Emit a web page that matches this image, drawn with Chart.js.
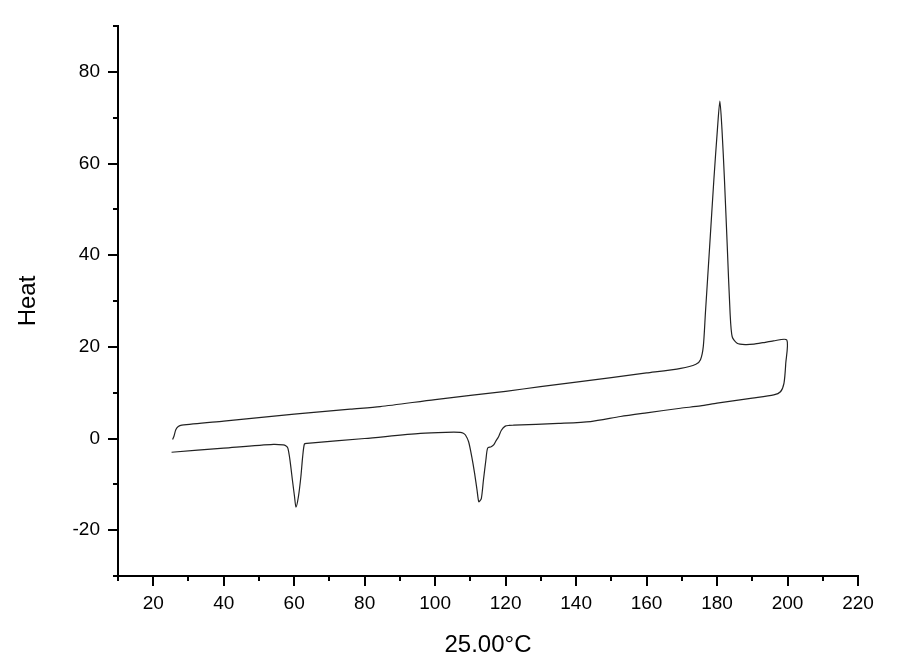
<!DOCTYPE html>
<html>
<head>
<meta charset="utf-8">
<script src="https://cdn.jsdelivr.net/npm/chart.js@4"></script>
<style>
  body { margin: 0; background: #fff; }
  #wrap { width: 900px; height: 664px; }
</style>
</head>
<body>
<div id="wrap"><canvas id="myChart"></canvas></div>
<script>
    // heating run then cooling run, one continuous trace
    var temps = [25.5, 25.9, 26.4, 27.1, 28.1, 40, 60, 75.9, 84.4, 100, 120, 129.9, 140, 160, 169.7, 174.0,
                 175.3, 176.1, 176.7, 177.9, 179.1, 180.1, 180.8, 181.4, 182.1, 182.9, 183.7, 184.3, 185.7,
                 188, 190.5, 193, 196, 199.8,
                 199.5, 199.0, 198.0, 196.1, 190, 180, 175.3, 169.6, 160, 152.6, 144.1, 135, 122.3, 121.0, 119.9,
                 118.8, 118.0, 117.2, 116.6, 115.9, 114.9, 114.4, 113.7, 113.1, 112.4, 111.9, 111.2, 110.4, 109.5, 108.6,
                 108.0, 107.1, 103, 95.8, 80, 63.6, 62.9, 62.4, 61.9, 61.2, 60.5, 60.1, 59.5, 58.8, 58.2, 57.6, 56.9,
                 54.1, 40, 25.2];
    var heat = [-0.2, 0.55, 1.9, 2.6, 2.9, 3.8, 5.3, 6.4, 6.95, 8.5, 10.3, 11.3, 12.3, 14.3, 15.3, 16.2,
                17.2, 20.1, 27.4, 41.9, 56.5, 67.4, 73.6, 67.4, 56.5, 41.9, 27.4, 22.2, 20.8,
                20.5, 20.6, 20.9, 21.3, 21.5,
                16.4, 12.1, 10.2, 9.5, 8.8, 7.7, 7.1, 6.6, 5.6, 4.8, 3.7, 3.3, 2.9, 2.85, 2.7,
                1.8, 0.4, -0.6, -1.4, -1.8, -2.1, -4.7, -9.1, -13.1, -13.8, -11.3, -7.6, -4.0, -0.7, 0.76,
                1.15, 1.35, 1.35, 1.1, 0.0, -1.05, -1.2, -4.0, -8.3, -12.7, -15.0, -12.7, -9.1, -4.7, -2.1, -1.6, -1.4,
                -1.27, -2.1, -3.0];

    var xMajor = [20, 40, 60, 80, 100, 120, 140, 160, 180, 200, 220];
    var yMajor = [-20, 0, 20, 40, 60, 80];
    var xMinor = [10, 30, 50, 70, 90, 110, 130, 150, 170, 190, 210];
    var yMinor = [-30, -10, 10, 30, 50, 70, 90];

    var points = temps.map(function (t, i) { return { x: t, y: heat[i] }; });

    // short ticks between the labelled ones
    var minorTicks = {
        id: 'minorTicks',
        afterDraw: function (chart) {
            var c = chart.ctx, xs = chart.scales.x, ys = chart.scales.y;
            c.save();
            c.strokeStyle = '#000';
            c.lineWidth = 2;
            c.beginPath();
            xMinor.forEach(function (v) {
                var px = Math.round(xs.getPixelForValue(v));
                c.moveTo(px, xs.top);
                c.lineTo(px, xs.top + 5);
            });
            yMinor.forEach(function (v) {
                var py = Math.round(ys.getPixelForValue(v));
                c.moveTo(ys.right, py);
                c.lineTo(ys.right - 5, py);
            });
            c.stroke();
            c.restore();
        }
    };

    const ctx = document.getElementById('myChart');
    new Chart(ctx, {
        type: 'scatter',
        data: {
            datasets: [{
                data: points,
                showLine: true,
                borderColor: '#222',
                borderWidth: 1.2,
                pointRadius: 0,
                tension: 0.25
            }]
        },
        options: {
            responsive: true,
            maintainAspectRatio: false,
            animation: false,
            layout: { padding: { top: 26, right: 42, left: 0, bottom: 0 } },
            plugins: {
                legend: { display: false },
                tooltip: { enabled: false }
            },
            scales: {
                x: {
                    type: 'linear',
                    min: 10,
                    max: 220,
                    afterBuildTicks: function (s) { s.ticks = xMajor.map(function (v) { return { value: v }; }); },
                    afterFit: function (s) { s.height = 88; },
                    border: { display: true, color: '#000', width: 2 },
                    grid: { drawOnChartArea: false, drawTicks: true, tickLength: 10, tickColor: '#000', tickWidth: 2, lineWidth: 2 },
                    ticks: { color: '#000', padding: 6, maxRotation: 0, font: { family: 'Arial, "Liberation Sans"', size: 19 } },
                    title: { display: true, text: '25.00°C', color: '#000', padding: { top: 13 }, font: { family: 'Arial, "Liberation Sans"', size: 24 } }
                },
                y: {
                    type: 'linear',
                    min: -30,
                    max: 90,
                    afterBuildTicks: function (s) { s.ticks = yMajor.map(function (v) { return { value: v }; }); },
                    afterFit: function (s) { s.width = 118; },
                    border: { display: true, color: '#000', width: 2 },
                    grid: { drawOnChartArea: false, drawTicks: true, tickLength: 10, tickColor: '#000', tickWidth: 2, lineWidth: 2 },
                    ticks: { color: '#000', padding: 8, font: { family: 'Arial, "Liberation Sans"', size: 19 } },
                    title: { display: true, text: 'Heat', color: '#000', padding: { top: 14 }, font: { family: 'Arial, "Liberation Sans"', size: 24 } }
                }
            }
        },
        plugins: [minorTicks]
    });
</script>
</body>
</html>
